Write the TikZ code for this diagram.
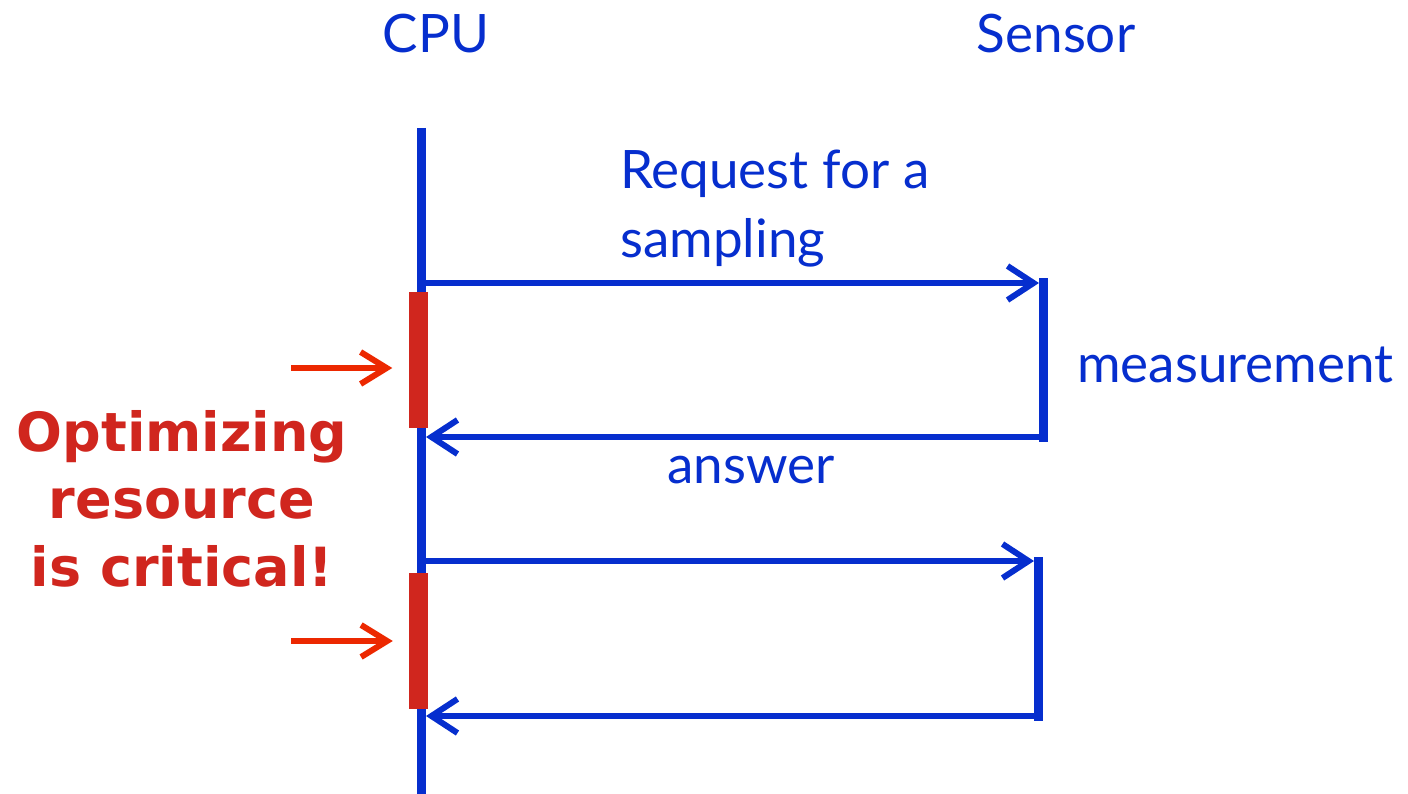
\documentclass[tikz,border=0pt]{standalone}
\usepackage{fontspec}
\setmainfont{Lato}
\newfontfamily\notefont{DejaVu Sans}
\usetikzlibrary{arrows.meta}
\definecolor{seqblue}{RGB}{6,46,206}
\definecolor{busyred}{RGB}{208,38,30}
\definecolor{hintred}{RGB}{236,40,0}

\begin{document}
\begin{tikzpicture}[x=1pt,y=-1pt,
  life/.style={draw=seqblue, line width=9pt},
  msg/.style={draw=seqblue, line width=6pt,
    -{Straight Barb[length=26pt,width=34pt]}},
  busy/.style={fill=busyred, draw=none, inner sep=0pt, minimum width=19pt},
  hint/.style={draw=hintred, line width=6pt,
    -{Straight Barb[length=26pt,width=32pt]}},
  lbl/.style={text=seqblue, inner sep=0pt, font=\fontsize{53}{69}\selectfont},
  note/.style={text=busyred, inner sep=0pt, align=center,
    font=\notefont\bfseries\fontsize{54}{67.5}\selectfont}]
\useasboundingbox (0,0) rectangle (1408,794);

% participants
\node[lbl, anchor=base] (cpu) at (436,53) {CPU};
\node[lbl, anchor=base] (sensor) at (1056,53) {Sensor};

% CPU lifeline
\coordinate (cpuTop) at (421,128);
\coordinate (cpuBot) at (421,794);
\draw[life] (cpuTop) -- (cpuBot);

% first request / measurement / answer
\coordinate (req1) at (426,283);
\coordinate (sen1Top) at (1043,283);
\coordinate (sen1Bot) at (1043,437);
\coordinate (ans1) at (426,437);
\draw[msg] (req1) -- ([xshift=-4pt]sen1Top);
\draw[life, line cap=rect] (sen1Top) -- (sen1Bot);
\draw[msg] (sen1Bot) -- (ans1);

% second request / answer
\coordinate (req2) at (426,561);
\coordinate (sen2Top) at (1038,561);
\coordinate (sen2Bot) at (1038,716);
\coordinate (ans2) at (426,716);
\draw[msg] (req2) -- ([xshift=-4pt]sen2Top);
\draw[life, line cap=rect] (sen2Top) -- (sen2Bot);
\draw[msg] (sen2Bot) -- (ans2);

% CPU busy intervals
\node[busy, minimum height=136pt] (busy1) at (418,360) {};
\node[busy, minimum height=136pt] (busy2) at (418.5,641) {};

% pointers to the busy intervals
\coordinate (hint1) at (291,368);
\coordinate (hint2) at (291,641);
\draw[hint] (hint1) -- ([xshift=-16pt]busy1.west |- hint1);
\draw[hint] (hint2) -- ([xshift=-16pt]busy2.west |- hint2);

% labels
\node[lbl, align=left, anchor=base west] (reqlbl) at (620,258) {Request for a\\sampling};
\node[lbl, anchor=base west] (measlbl) at (1077,382) {measurement};
\node[lbl, anchor=base west] (anslbl) at (667,483) {answer};
\node[note, anchor=north] (note) at (182,410) {Optimizing\\resource\\is critical!};
\end{tikzpicture}
\end{document}
